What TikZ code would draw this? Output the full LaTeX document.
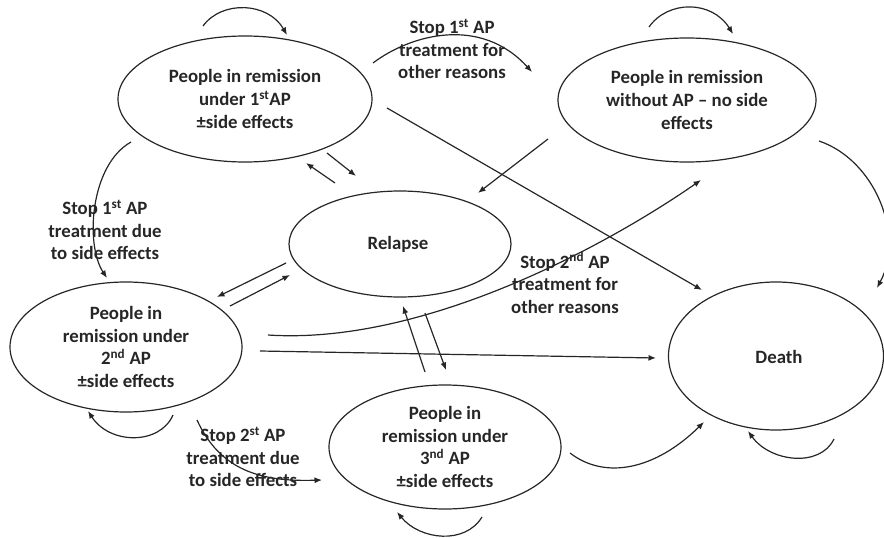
\documentclass[tikz,border=0pt]{standalone}
\usepackage{fontspec}
\setmainfont{Carlito}
\usetikzlibrary{calc,arrows.meta,shapes.geometric}
\definecolor{ink}{HTML}{262626}
\begin{document}
\begin{tikzpicture}[x=1pt,y=-1pt,
  every node/.style={font=\bfseries\fontsize{18.8}{22.6}\selectfont, text=ink},
  state/.style={draw=ink, line width=1.2pt, ellipse, inner sep=0pt, align=center},
  lbl/.style={align=center, inner sep=0pt},
  conn/.style={draw=ink, line width=1.2pt, -{Latex[length=7.5pt,width=6pt]}}]
\useasboundingbox (0,0) rectangle (884,538);

\node[state, minimum width=254pt, minimum height=126pt] (e1) at (245,99)
  {People in remission\\under 1\textsuperscript{st}AP\\±side effects};
\node[state, minimum width=258pt, minimum height=124pt] (e2) at (687,100)
  {People in remission\\without AP – no side\\effects};
\node[state, minimum width=222pt, minimum height=106pt] (rel) at (400,244) {};
\node at (398,244) (reltext) {Relapse};
\node[state, minimum width=232pt, minimum height=130pt] (e3) at (126,347)
  {People in\\remission under\\2\textsuperscript{nd} AP\\±side effects};
\node[state, minimum width=232pt, minimum height=124pt] (e4) at (445,447)
  {People in\\remission under\\3\textsuperscript{nd} AP\\±side effects};
\node[state, minimum width=215pt, minimum height=148pt] (death) at (776,356) {};
\node at (779,357) (deathtext) {Death};

\node[lbl] (l1) at (452,49) {Stop 1\textsuperscript{st} AP\\treatment for\\other reasons};
\node[lbl] (l2) at (105,230) {Stop 1\textsuperscript{st} AP\\treatment due\\to side effects};
\node[lbl] (l3) at (565,283) {Stop 2\textsuperscript{nd} AP\\treatment for\\other reasons};
\node[lbl] (l4) at (243,457) {Stop 2\textsuperscript{st} AP\\treatment due\\to side effects};

% self loops
\draw[conn] ($(e1)+(-42,-73)$) .. controls (222,0) and (268,2) .. ($(e1)+(42,-64)$);
\draw[conn] ($(e2)+(-38,-73)$) .. controls (668,0) and (712,0) .. ($(e2)+(46,-66)$);
\draw[conn] ($(e3)+(47,68)$) .. controls (160,445) and (110,445) .. ($(e3)+(-38,64)$);
\draw[conn] ($(e4)+(37,70)$) .. controls (465,545) and (420,540) .. ($(e4)+(-48,65)$);
\draw[conn] ($(death)+(58,83)$) .. controls (820,468) and (770,462) .. ($(death)+(-28,75)$);

% transitions
\draw[conn] ($(e1)+(128,-36)$) .. controls (410,35) and (480,15) .. ($(e2)+(-155,-28)$);
\draw[conn] ($(e1)+(142,9)$) -- ($(death)+(-74,-66)$);
\draw[conn] ($(rel)+(-65,-61)$) -- ($(e1)+(61,64)$);
\draw[conn] ($(e1)+(82,54)$) -- ($(rel)+(-44,-68)$);
\draw[conn] ($(e1)+(-114,43)$) .. controls (90,165) and (85,245) .. ($(e3)+(-19,-69)$);
\draw[conn] ($(e2)+(-139,39)$) -- ($(rel)+(78,-51)$);
\draw[conn] ($(e2)+(132,41)$) .. controls (875,160) and (905,235) .. ($(death)+(101,-68)$);
\draw[conn] ($(rel)+(-114,19)$) -- ($(e3)+(91,-50)$);
\draw[conn] ($(e3)+(104,-41)$) -- ($(rel)+(-110,31)$);
\draw[conn] ($(e3)+(142,-12)$) .. controls (420,345) and (600,250) .. ($(e2)+(14,80)$);
\draw[conn] ($(e3)+(134,4)$) -- ($(death)+(-120,2)$);
\draw[conn] ($(e4)+(-20,-75)$) -- ($(rel)+(3,62)$);
\draw[conn] ($(rel)+(25,69)$) -- ($(e4)+(1,-77)$);
\draw[conn] ($(e3)+(71,73)$) .. controls (220,470) and (260,482) .. ($(e4)+(-123,33)$);
\draw[conn] ($(e4)+(125,6)$) .. controls (605,480) and (655,470) .. ($(death)+(-72,66)$);
\end{tikzpicture}
\end{document}
